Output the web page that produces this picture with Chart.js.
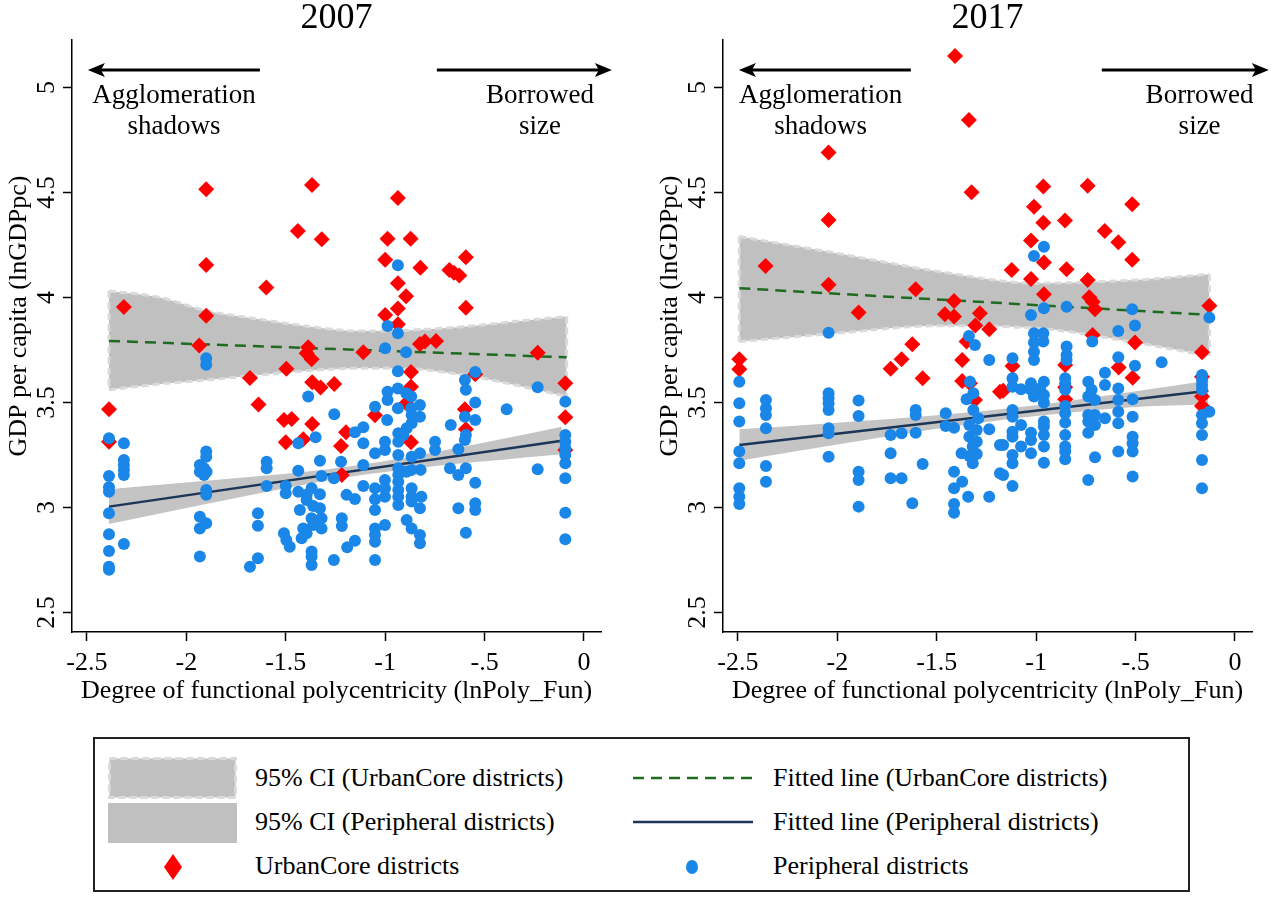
<!DOCTYPE html>
<html>
<head>
<meta charset="utf-8">
<script src="https://cdn.jsdelivr.net/npm/chart.js@4/dist/chart.umd.min.js"></script>
<style>
  body { margin: 0; background: #fff; width: 1280px; height: 898px; position: relative; overflow: hidden; font-family: "Liberation Serif", serif; }
  canvas { position: absolute; top: 0; }
  #legend { position: absolute; left: 93px; top: 737px; width: 1097px; height: 155px; border: 2px solid #222; box-sizing: border-box; }
  #legend .t { position: absolute; font-size: 26px; line-height: 30px; color: #000; white-space: nowrap; }
  #legend svg { position: absolute; }
</style>
</head>
<body>
<canvas id="c2007" width="640" height="720" style="left:0"></canvas>
<canvas id="c2017" width="640" height="720" style="left:651px"></canvas>

<div id="legend">
  <svg style="left:13px;top:18px" width="129" height="42"><rect x="1.5" y="1.5" width="126" height="39" fill="#c0c0c0" stroke="#dadada" stroke-width="3" stroke-dasharray="7 4"/></svg>
  <div class="t" style="left:160px;top:24px">95% CI (UrbanCore districts)</div>
  <svg style="left:13px;top:64px" width="129" height="40"><rect x="0" y="0" width="129" height="40" fill="#c0c0c0"/></svg>
  <div class="t" style="left:160px;top:68px">95% CI (Peripheral districts)</div>
  <svg style="left:68px;top:115px" width="20" height="26"><polygon points="10,0 19,13 10,26 1,13" fill="#ff0000"/></svg>
  <div class="t" style="left:160px;top:112px">UrbanCore districts</div>

  <svg style="left:537px;top:34px" width="122" height="10"><line x1="1" y1="5" x2="121" y2="5" stroke="#1f6b1f" stroke-width="2.5" stroke-dasharray="11 7"/></svg>
  <div class="t" style="left:678px;top:24px">Fitted line (UrbanCore districts)</div>
  <svg style="left:537px;top:78px" width="122" height="10"><line x1="1" y1="5" x2="121" y2="5" stroke="#1c3658" stroke-width="2.5"/></svg>
  <div class="t" style="left:678px;top:68px">Fitted line (Peripheral districts)</div>
  <svg style="left:590px;top:120px" width="14" height="16"><ellipse cx="7" cy="8" rx="6" ry="7" fill="#1a87e8"/></svg>
  <div class="t" style="left:678px;top:112px">Peripheral districts</div>
</div>

<script>
// axis ticks
const xTicks = [-2.5, -2, -1.5, -1, -0.5, 0];
const xTickLabels = ['-2.5', '-2', '-1.5', '-1', '-.5', '0'];
const yTicks = [2.5, 3, 3.5, 4, 4.5, 5];
const yTickLabels = ['2.5', '3', '3.5', '4', '4.5', '5'];
const xTitle = 'Degree of functional polycentricity (lnPoly_Fun)';
const yTitle = 'GDP per capita (lnGDPpc)';

// 2007 panel
const urban07 = [
  [-1.90,4.515],[-1.368,4.536],[-1.439,4.317],[-1.319,4.277],[-1.90,4.155],[-1.598,4.047],[-2.314,3.955],
  [-1.90,3.913],[-1.935,3.771],[-1.387,3.763],[-1.395,3.734],[-1.37,3.706],[-1.497,3.66],[-1.68,3.617],
  [-1.367,3.596],[-1.325,3.571],[-1.256,3.588],[-2.389,3.468],[-1.637,3.49],[-1.509,3.417],[-1.47,3.421],
  [-1.367,3.398],[-1.50,3.31],[-1.412,3.325],[-1.197,3.358],[-1.222,3.293],[-1.218,3.155],[-2.389,3.313],
  [-1.11,3.739],[-0.936,4.474],[-0.988,4.279],[-0.872,4.279],[-1.0,4.179],[-0.823,4.142],[-0.594,4.191],
  [-0.677,4.131],[-0.654,4.118],[-0.627,4.104],[-0.936,4.068],[-0.895,4.006],[-0.936,3.947],[-1.0,3.917],
  [-0.594,3.951],[-0.936,3.872],[-0.825,3.779],[-0.80,3.79],[-0.744,3.793],[-0.233,3.737],[-0.87,3.645],
  [-0.87,3.575],[-0.547,3.634],[-0.094,3.591],[-0.599,3.468],[-1.051,3.439],[-0.094,3.43],[-0.894,3.496],
  [-0.87,3.31],[-0.594,3.372],[-0.094,3.274]
];
const peri07 = [
  [-2.389,3.33],[-2.389,3.15],[-2.389,3.096],[-2.389,3.075],[-2.389,2.972],[-2.389,2.872],[-2.389,2.793],[-2.389,2.718],[-2.389,2.703],
  [-2.314,3.306],[-2.314,3.226],[-2.314,3.202],[-2.314,3.179],[-2.314,3.155],[-2.314,2.826],
  [-1.90,3.71],[-1.90,3.68],[-1.90,3.266],[-1.90,3.242],[-1.932,3.202],[-1.911,3.187],[-1.932,3.17],[-1.898,3.17],[-1.911,3.155],
  [-1.90,3.083],[-1.90,3.06],[-1.932,2.956],[-1.90,2.925],[-1.932,2.90],[-1.932,2.766],
  [-1.596,3.218],[-1.596,3.187],[-1.596,3.102],[-1.64,2.972],[-1.64,2.913],[-1.64,2.758],[-1.68,2.718],
  [-1.50,3.102],[-1.50,3.068],[-1.509,2.877],[-1.497,2.845],[-1.48,2.813],
  [-1.387,3.528],[-1.437,3.306],[-1.35,3.334],[-1.437,3.175],[-1.328,3.223],[-1.32,3.15],[-1.437,3.075],[-1.395,3.06],
  [-1.37,3.091],[-1.328,3.063],[-1.395,3.036],[-1.362,3.007],[-1.328,2.996],[-1.429,2.988],[-1.37,2.949],[-1.32,2.949],
  [-1.412,2.90],[-1.362,2.917],[-1.32,2.90],[-1.395,2.877],[-1.42,2.853],[-1.37,2.79],[-1.37,2.766],[-1.37,2.726],
  [-1.256,3.444],[-1.258,3.139],[-1.258,2.75],[-1.222,3.218],[-1.218,2.949],[-1.218,2.912],[-1.194,3.06],[-1.152,3.04],
  [-1.191,2.81],[-1.152,2.842],[-1.152,3.358],[-1.11,3.382],[-1.11,3.306],[-1.11,3.202],[-1.11,3.102],
  [-1.051,3.48],[-1.051,3.258],[-1.051,3.091],[-1.051,3.039],[-1.051,2.988],[-1.051,2.90],[-1.051,2.869],[-1.051,2.837],[-1.051,2.75],
  [-0.988,3.864],[-1.0,3.758],[-0.988,3.551],[-0.988,3.512],[-0.99,3.417],[-1.001,3.313],[-1.001,3.274],[-1.001,3.131],
  [-1.001,3.091],[-1.001,3.051],[-1.001,2.917],
  [-0.936,4.153],[-0.936,3.829],[-0.936,3.649],[-0.936,3.567],[-0.936,3.472],[-0.934,3.353],[-0.934,3.313],[-0.934,3.25],
  [-0.934,3.187],[-0.934,3.155],[-0.934,3.123],[-0.934,3.083],[-0.934,3.051],[-0.934,3.012],
  [-0.895,3.739],[-0.894,3.544],[-0.869,3.528],[-0.869,3.472],[-0.892,3.377],[-0.867,3.44],[-0.867,3.401],[-0.909,3.345],
  [-0.867,3.242],[-0.867,3.179],[-0.892,3.17],[-0.867,3.091],[-0.867,3.051],[-0.867,3.028],[-0.892,2.94],[-0.867,2.90],
  [-0.825,3.488],[-0.825,3.432],[-0.825,3.258],[-0.822,3.179],[-0.818,3.051],[-0.825,2.996],[-0.825,2.869],[-0.825,2.83],
  [-0.749,3.313],[-0.749,3.274],[-0.67,3.393],[-0.674,3.187],[-0.632,3.155],[-0.594,3.187],[-0.632,3.277],[-0.599,3.321],
  [-0.594,3.345],[-0.599,3.432],[-0.632,2.996],[-0.547,3.118],[-0.547,3.02],[-0.547,2.988],[-0.594,2.88],[-0.547,3.645],
  [-0.599,3.607],[-0.594,3.56],[-0.547,3.50],[-0.547,3.417],[-0.389,3.468],[-0.233,3.572],[-0.233,3.182],
  [-0.094,3.504],[-0.094,3.345],[-0.094,3.313],[-0.094,3.282],[-0.094,3.25],[-0.094,3.21],[-0.094,3.139],[-0.094,2.975],[-0.094,2.849]
];
const fitUrbanX07 = [-2.389, -0.087];
const fitUrbanY07 = [3.793, 3.715];
const fitPeriX07 = [-2.389, -0.112];
const fitPeriY07 = [3.004, 3.318];
const ciUrbanX07 = [-2.389, -2.133, -1.90, -1.63, -1.378, -1.127, -0.942, -0.607, -0.272, -0.087];
const ciUrbanHi07 = [4.031, 4.0, 3.937, 3.896, 3.861, 3.84, 3.842, 3.861, 3.893, 3.909];
const ciUrbanLo07 = [3.56, 3.588, 3.607, 3.631, 3.652, 3.663, 3.663, 3.631, 3.568, 3.528];
const ciPeriX07 = [-2.389, -2.0, -1.6, -1.2, -0.8, -0.4, -0.112];
const ciPeriHi07 = [3.087, 3.119, 3.152, 3.193, 3.254, 3.328, 3.384];
const ciPeriLo07 = [2.921, 2.997, 3.074, 3.143, 3.192, 3.228, 3.253];

// 2017 panel
const urban17 = [
  [-1.408,5.15],[-1.338,4.845],[-2.044,4.69],[-1.325,4.501],[-2.044,4.369],[-2.361,4.15],[-2.044,4.06],[-1.606,4.039],
  [-1.413,3.983],[-1.459,3.92],[-1.413,3.909],[-1.283,3.925],[-1.306,3.866],[-1.236,3.849],[-1.893,3.928],
  [-0.964,4.528],[-0.741,4.532],[-0.517,4.444],[-1.011,4.432],[-0.964,4.356],[-0.855,4.366],[-0.655,4.317],[-0.587,4.263],
  [-1.026,4.271],[-0.517,4.179],[-0.961,4.166],[-1.123,4.131],[-0.847,4.134],[-1.026,4.088],[-0.741,4.083],[-0.961,4.015],
  [-0.733,4.001],[-0.716,3.98],[-0.704,3.944],[-0.129,3.961],[-0.716,3.821],[-0.503,3.785],
  [-2.493,3.706],[-2.493,3.658],[-1.623,3.777],[-1.677,3.706],[-1.732,3.66],[-1.571,3.615],[-1.372,3.702],[-1.35,3.79],
  [-1.372,3.602],[-1.333,3.591],[-1.308,3.512],[-1.182,3.551],
  [-0.166,3.739],[-1.119,3.674],[-0.854,3.679],[-0.585,3.666],[-0.515,3.618],[-1.166,3.556],[-0.854,3.572],[-0.854,3.515],
  [-0.166,3.623],[-0.166,3.483],[-0.166,3.528]
];
const peri17 = [
  [-2.044,3.832],[-1.338,3.817],[-0.961,4.242],[-1.011,4.198],[-0.961,3.949],[-1.026,3.917],[-0.847,3.956],[-0.517,3.944],
  [-0.129,3.904],[-0.503,3.866],[-0.587,3.84],[-1.011,3.829],[-0.964,3.829],[-1.308,3.774],[-1.236,3.702],
  [-2.493,3.599],[-2.493,3.496],[-2.493,3.409],[-2.493,3.266],[-2.493,3.21],[-2.493,3.091],[-2.493,3.051],[-2.493,3.017],
  [-2.359,3.512],[-2.359,3.472],[-2.359,3.44],[-2.359,3.377],[-2.359,3.198],[-2.359,3.123],
  [-2.044,3.544],[-2.044,3.52],[-2.044,3.496],[-2.044,3.464],[-2.044,3.377],[-2.044,3.353],[-2.044,3.242],
  [-1.893,3.509],[-1.893,3.436],[-1.893,3.17],[-1.893,3.131],[-1.893,3.004],
  [-1.732,3.345],[-1.677,3.353],[-1.732,3.258],[-1.732,3.139],[-1.677,3.139],
  [-1.606,3.464],[-1.606,3.44],[-1.606,3.356],[-1.571,3.207],[-1.623,3.02],
  [-1.455,3.449],[-1.455,3.388],
  [-1.413,3.38],[-1.413,3.17],[-1.413,3.091],[-1.413,3.017],[-1.413,2.975],[-1.372,3.123],[-1.342,3.051],
  [-1.333,3.599],[-1.316,3.544],[-1.35,3.515],[-1.316,3.464],[-1.291,3.425],[-1.336,3.393],[-1.299,3.369],[-1.336,3.337],
  [-1.299,3.313],[-1.319,3.29],[-1.375,3.258],[-1.336,3.245],[-1.299,3.255],[-1.319,3.21],[-1.236,3.372],[-1.236,3.051],
  [-1.182,3.298],[-1.182,3.163],
  [-1.011,3.785],[-0.964,3.79],[-1.011,3.742],[-1.011,3.702],[-0.718,3.79],[-0.847,3.766],[-0.847,3.726],[-0.847,3.702],
  [-1.119,3.71],[-0.587,3.715],[-0.503,3.675],[-0.369,3.691],[-0.654,3.642],
  [-0.166,3.631],[-0.166,3.607],[-0.166,3.583],[-0.166,3.56],[-0.166,3.44],[-0.166,3.401],[-0.166,3.345],[-0.166,3.226],
  [-0.166,3.091],[-0.129,3.456],
  [-1.119,3.615],[-1.119,3.575],[-1.119,3.464],[-1.119,3.432],[-1.119,3.361],[-1.119,3.337],[-1.119,3.25],[-1.119,3.21],
  [-1.119,3.102],[-1.076,3.563],[-1.076,3.393],[-1.076,3.29],[-1.166,3.298],[-1.166,3.155],
  [-1.026,3.591],[-0.961,3.599],[-1.026,3.56],[-0.98,3.567],[-1.011,3.528],[-0.961,3.536],[-0.961,3.499],[-0.961,3.409],
  [-0.961,3.385],[-1.026,3.356],[-0.961,3.345],[-1.026,3.321],[-0.961,3.29],[-1.026,3.258],[-0.961,3.213],
  [-0.854,3.615],[-0.854,3.591],[-0.854,3.56],[-0.854,3.483],[-0.854,3.449],[-0.854,3.404],[-0.854,3.345],[-0.854,3.29],
  [-0.854,3.266],[-0.854,3.23],
  [-0.738,3.599],[-0.721,3.56],[-0.738,3.528],[-0.704,3.512],[-0.738,3.44],[-0.704,3.44],[-0.738,3.409],[-0.704,3.393],
  [-0.738,3.356],[-0.654,3.583],[-0.654,3.425],[-0.704,3.239],[-0.738,3.131],
  [-0.587,3.567],[-0.587,3.512],[-0.587,3.456],[-0.587,3.401],[-0.587,3.266],
  [-0.515,3.515],[-0.515,3.432],[-0.515,3.337],[-0.515,3.306],[-0.515,3.266],[-0.515,3.147]
];
const fitUrbanX17 = [-2.493, -0.129];
const fitUrbanY17 = [4.044, 3.917];
const fitPeriX17 = [-2.493, -0.134];
const fitPeriY17 = [3.298, 3.556];
const ciUrbanX17 = [-2.493, -2.0, -1.5, -1.0, -0.5, -0.129];
const ciUrbanHi17 = [4.29, 4.21, 4.125, 4.068, 4.083, 4.11];
const ciUrbanLo17 = [3.79, 3.83, 3.865, 3.854, 3.785, 3.721];
const ciPeriX17 = [-2.493, -2.0, -1.5, -1.0, -0.5, -0.134];
const ciPeriHi17 = [3.372, 3.404, 3.439, 3.487, 3.554, 3.605];
const ciPeriLo17 = [3.223, 3.300, 3.375, 3.435, 3.478, 3.49];

// arrows and notes at the top of each panel (same words, slightly different spots)
const arrowY = 5.083;
const noteText = ['Agglomeration', 'shadows', 'Borrowed', 'size'];
const noteY = [4.96, 4.81, 4.96, 4.81];
const arrowFrom07 = [-1.63, -0.74];
const arrowTo07 = [-2.495, 0.14];
const noteX07 = [-2.062, -2.062, -0.221, -0.221];
const arrowFrom17 = [-1.63, -0.67];
const arrowTo17 = [-2.495, 0.17];
const noteX17 = [-2.084, -2.084, -0.178, -0.178];

const serif = 'Liberation Serif';
const pts = (arr) => arr.map(p => ({x: p[0], y: p[1]}));
const zipXY = (xs, ys) => xs.map((x, i) => ({x: x, y: ys[i]}));

function notesPlugin(arrowFrom, arrowTo, noteX) {
  return {
    id: 'notes',
    afterDraw: function(chart) {
      var ctx = chart.ctx, xs = chart.scales.x, ys = chart.scales.y, area = chart.chartArea;
      ctx.save();
      ctx.strokeStyle = '#000';
      ctx.fillStyle = '#000';
      ctx.lineWidth = 3;
      var py = ys.getPixelForValue(arrowY);
      for (var i = 0; i < arrowFrom.length; i++) {
        var p0 = xs.getPixelForValue(arrowFrom[i]);
        var p1 = xs.getPixelForValue(arrowTo[i]);
        var dir = p1 > p0 ? 1 : -1;
        ctx.beginPath();
        ctx.moveTo(p0, py);
        ctx.lineTo(p1 - dir * 12, py);
        ctx.stroke();
        ctx.beginPath();
        ctx.moveTo(p1, py);
        ctx.lineTo(p1 - dir * 17, py - 7);
        ctx.lineTo(p1 - dir * 13, py);
        ctx.lineTo(p1 - dir * 17, py + 7);
        ctx.closePath();
        ctx.fill();
      }
      ctx.font = '27px "' + serif + '"';
      ctx.textAlign = 'center';
      ctx.textBaseline = 'middle';
      for (var j = 0; j < noteText.length; j++) {
        ctx.fillText(noteText[j], xs.getPixelForValue(noteX[j]), ys.getPixelForValue(noteY[j]));
      }
      // y axis title, a little above the middle of the axis as in the original
      ctx.font = '26px "' + serif + '"';
      ctx.translate(19, (area.top + area.bottom) / 2 - 20);
      ctx.rotate(-Math.PI / 2);
      ctx.fillText(yTitle, 0, 0);
      ctx.restore();
    }
  };
}

function band(xs, hi, lo) {
  var edges = [
    {x: xs[0], y: hi[0]}, {x: xs[0], y: lo[0]}, {x: xs[0], y: null},
    {x: xs[xs.length - 1], y: hi[hi.length - 1]}, {x: xs[xs.length - 1], y: lo[lo.length - 1]}
  ];
  return {hi: zipXY(xs, hi), lo: zipXY(xs, lo), edges: edges};
}

function makePanel(id, title, urban, peri, fitU, fitP, bandU, bandP, notes) {
  var axisFont = {family: serif, size: 26};
  new Chart(document.getElementById(id), {
    type: 'scatter',
    data: {
      datasets: [
        { data: pts(peri), pointStyle: 'circle', pointRadius: 6, backgroundColor: '#1a87e8', borderColor: '#1a87e8', borderWidth: 0 },
        { data: pts(urban), pointStyle: 'rectRot', pointRadius: 8, backgroundColor: '#ff0000', borderColor: '#ff0000', borderWidth: 0 },
        { data: fitU, showLine: true, borderColor: '#1f6b1f', borderDash: [11, 7], borderWidth: 2.5, pointRadius: 0 },
        { data: fitP, showLine: true, borderColor: '#1c3658', borderWidth: 2.5, pointRadius: 0 },
        { data: bandU.hi, showLine: true, fill: '+1', backgroundColor: '#c0c0c0', borderColor: '#dadada', borderDash: [7, 4], borderWidth: 3, pointRadius: 0, cubicInterpolationMode: 'monotone' },
        { data: bandU.lo, showLine: true, borderColor: '#dadada', borderDash: [7, 4], borderWidth: 3, pointRadius: 0, cubicInterpolationMode: 'monotone' },
        { data: bandU.edges, showLine: true, spanGaps: false, borderColor: '#dadada', borderDash: [7, 4], borderWidth: 3, pointRadius: 0 },
        { data: bandP.hi, showLine: true, fill: '+1', backgroundColor: '#c4c4c4', borderWidth: 0, pointRadius: 0, cubicInterpolationMode: 'monotone' },
        { data: bandP.lo, showLine: true, borderWidth: 0, pointRadius: 0, cubicInterpolationMode: 'monotone' }
      ]
    },
    options: {
      responsive: false,
      animation: false,
      devicePixelRatio: 1,
      layout: { padding: { left: 0, right: 39, top: 0, bottom: 0 } },
      plugins: {
        legend: { display: false },
        tooltip: { enabled: false },
        filler: { drawTime: 'beforeDatasetsDraw' },
        title: { display: true, text: title, fullSize: false, color: '#000', font: { family: serif, size: 36, weight: 'normal', lineHeight: 1 }, padding: { top: 1, bottom: 3 } }
      },
      scales: {
        x: {
          type: 'linear', min: -2.575, max: 0.0855,
          afterBuildTicks: function(s) { s.ticks = xTicks.map(function(v) { return {value: v}; }); },
          afterFit: function(s) { s.height = 88; },
          ticks: { autoSkip: false, maxRotation: 0, color: '#000', font: axisFont, padding: 7, callback: function(v, i) { return xTickLabels[i]; } },
          grid: { drawOnChartArea: false, drawTicks: true, tickLength: 9, tickColor: '#000', tickWidth: 1.5 },
          border: { color: '#000', width: 1.5 },
          title: { display: true, text: xTitle, color: '#000', font: axisFont, padding: { top: 0, bottom: 13 } }
        },
        y: {
          type: 'linear', min: 2.407, max: 5.226,
          afterBuildTicks: function(s) { s.ticks = yTicks.map(function(v) { return {value: v}; }); },
          afterFit: function(s) { s.width = 72; },
          ticks: { autoSkip: false, minRotation: 90, maxRotation: 90, crossAlign: 'center', color: '#000', font: axisFont, padding: 0, callback: function(v, i) { return yTickLabels[i]; } },
          grid: { drawOnChartArea: false, drawTicks: true, tickLength: 9, tickColor: '#000', tickWidth: 1.5 },
          border: { color: '#000', width: 1.5 },
          title: { display: false }
        }
      }
    },
    plugins: [notes]
  });
}

makePanel('c2007', '2007', urban07, peri07,
  zipXY(fitUrbanX07, fitUrbanY07), zipXY(fitPeriX07, fitPeriY07),
  band(ciUrbanX07, ciUrbanHi07, ciUrbanLo07), band(ciPeriX07, ciPeriHi07, ciPeriLo07),
  notesPlugin(arrowFrom07, arrowTo07, noteX07));
makePanel('c2017', '2017', urban17, peri17,
  zipXY(fitUrbanX17, fitUrbanY17), zipXY(fitPeriX17, fitPeriY17),
  band(ciUrbanX17, ciUrbanHi17, ciUrbanLo17), band(ciPeriX17, ciPeriHi17, ciPeriLo17),
  notesPlugin(arrowFrom17, arrowTo17, noteX17));
</script>
</body>
</html>
